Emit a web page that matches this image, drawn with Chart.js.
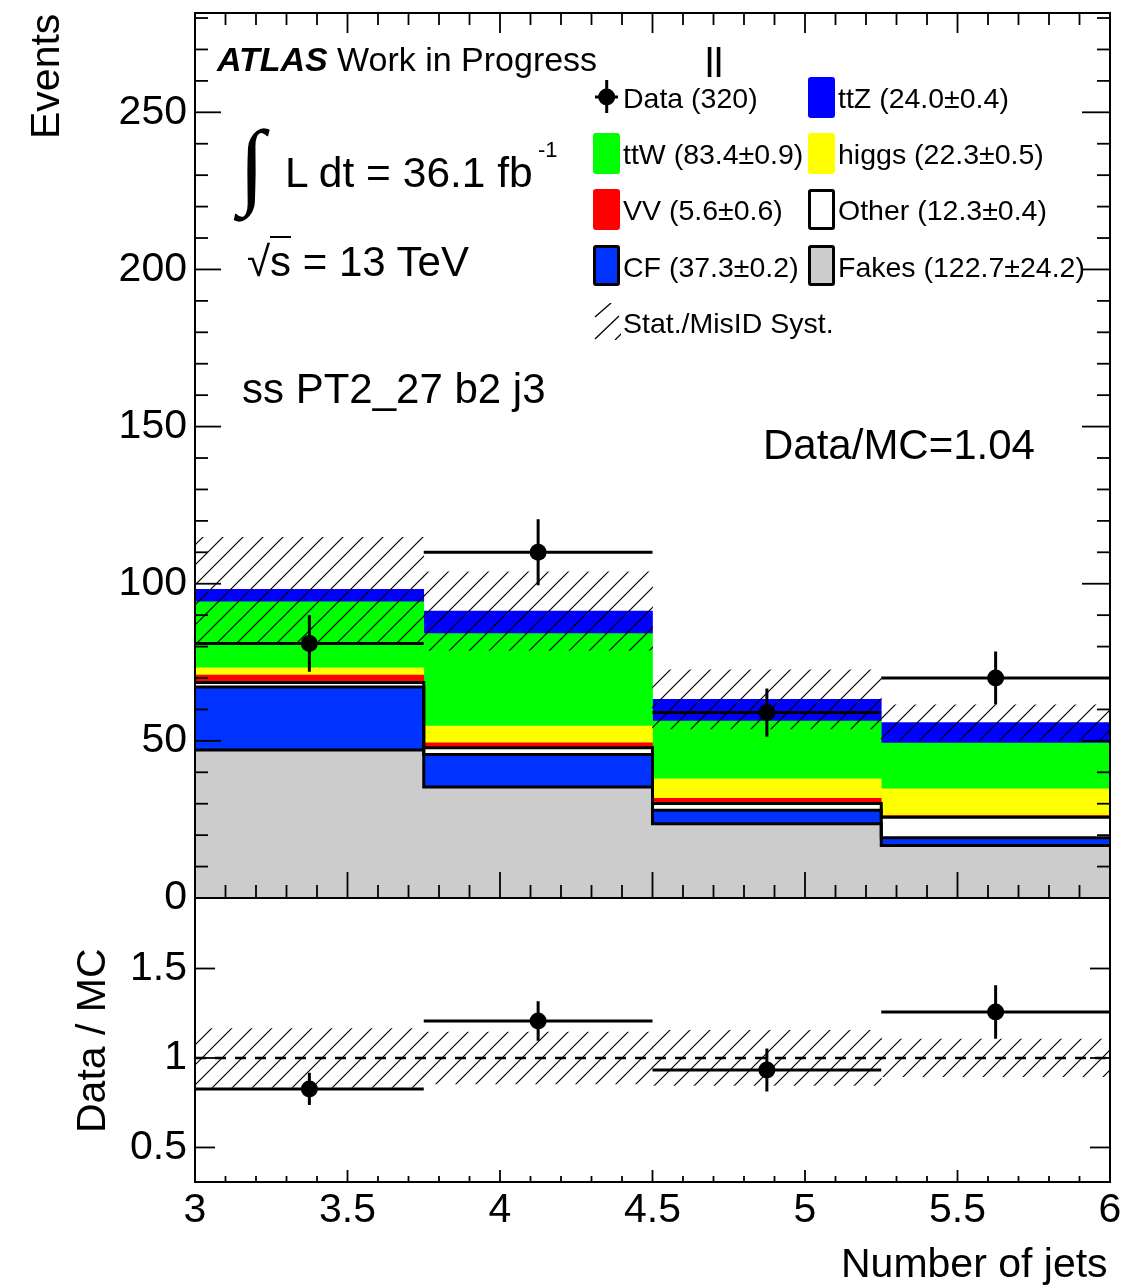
<!DOCTYPE html>
<html>
<head>
<meta charset="utf-8">
<script src="https://cdn.jsdelivr.net/npm/chart.js@4.4.0/dist/chart.umd.min.js"></script>
<style>
  html, body { margin: 0; padding: 0; background: #fff; }
  #wrap { position: relative; width: 1148px; height: 1288px; overflow: hidden; }
  #plot { position: absolute; left: 0; top: 0; }
  .txt { position: absolute; white-space: nowrap; line-height: 1; font-family: "Liberation Sans", Arial, Helvetica, sans-serif; color: #000; }
  .probe { display: inline-block; width: 0; height: 0; vertical-align: baseline; }
  .sw { position: absolute; box-sizing: border-box; width: 27px; height: 41px; border-radius: 3px; }
</style>
</head>
<body>
<div id="wrap">
  <canvas id="plot" width="1148" height="1288"></canvas>
</div>
<script>
// number of jets binning and axis ticks
const binEdges = [3, 3.75, 4.5, 5.25, 6];
const xTickValues = [3, 3.5, 4, 4.5, 5, 5.5, 6];
const yTickValues = [0, 50, 100, 150, 200, 250];
const ratioTickValues = [0.5, 1, 1.5];

// MC stack, bottom to top
const fakes = [47.1, 35.3, 23.6, 16.7];
const cf = [20.0, 10.4, 4.3, 2.5];
const other = [1.5, 2.1, 2.2, 6.5];
const vv = [2.3, 1.6, 1.6, 0.5];
const higgs = [2.3, 5.3, 6.2, 8.5];
const ttw = [21.0, 29.4, 18.4, 14.6];
const ttz = [4.0, 7.2, 6.9, 6.5];
const mcUnc = [16.6, 12.5, 9.4, 5.7];

// data
const dataCounts = [81, 110, 59, 70];
const dataErr = [9.0, 10.5, 7.7, 8.4];

// ratio panel
const ratioVals = [0.827, 1.207, 0.933, 1.257];
const ratioErr = [0.09, 0.11, 0.12, 0.15];
const ratioUnc = [0.165, 0.145, 0.154, 0.105];

const legendLabels = ['Data (320)', 'ttZ (24.0±0.4)', 'ttW (83.4±0.9)', 'higgs (22.3±0.5)',
  'VV (5.6±0.6)', 'Other (12.3±0.4)', 'CF (37.3±0.2)', 'Fakes (122.7±24.2)', 'Stat./MisID Syst.'];

const FONT = '"Liberation Sans", Arial, Helvetica, sans-serif';
const colFakes = '#cccccc', colCF = '#0033ff', colOther = '#ffffff', colVV = '#ff0000';
const colHiggs = '#ffff00', colTtW = '#00ff00', colTtZ = '#0000ff';

const binLabels = binEdges.slice(0, -1).map((e, i) => `${e}-${binEdges[i + 1]}`);
const centers = binEdges.slice(0, -1).map((e, i) => (e + binEdges[i + 1]) / 2);
const mcTotal = centers.map((_, i) => fakes[i] + cf[i] + other[i] + vv[i] + higgs[i] + ttw[i] + ttz[i]);

const plotCtx = document.getElementById('plot').getContext('2d');

function hatch() {
  const tile = document.createElement('canvas');
  tile.width = 20; tile.height = 20;
  const g = tile.getContext('2d');
  g.strokeStyle = '#000';
  g.lineWidth = 1.2;
  g.beginPath();
  g.moveTo(0, 20); g.lineTo(20, 0);
  g.moveTo(-5, 5); g.lineTo(5, -5);
  g.moveTo(15, 25); g.lineTo(25, 15);
  g.stroke();
  return plotCtx.createPattern(tile, 'repeat');
}
const hatchFill = hatch();

const barBase = { type: 'bar', xAxisID: 'xb', grouped: false, categoryPercentage: 1, barPercentage: 1, borderWidth: 0 };
const stackBar = (label, values, color) => ({ ...barBase, label, data: values, backgroundColor: color, yAxisID: 'y', stack: 'mc', order: 3 });
// histogram step outline (stacked so it sits on top of the cumulative sum)
const outline = (label, values) => ({
  type: 'line', label, xAxisID: 'x', yAxisID: 'y', stack: 'outline', order: 2,
  data: binEdges.map((e, i) => ({ x: e, y: values[Math.min(i, values.length - 1)] })),
  stepped: 'before', borderColor: '#000', borderWidth: 3, pointRadius: 0, fill: false
});
const hLines = vals => centers.flatMap((c, i) => [{ x: binEdges[i], y: vals[i] }, { x: binEdges[i + 1], y: vals[i] }, { x: binEdges[i + 1], y: null }]);
const vLines = (vals, errs) => centers.flatMap((c, i) => [{ x: c, y: vals[i] - errs[i] }, { x: c, y: vals[i] + errs[i] }, { x: c, y: null }]);
const lineSet = (data, yAxisID, stack) => ({
  type: 'line', data, xAxisID: 'x', yAxisID, stack, order: 0,
  borderColor: '#000', borderWidth: 3, pointRadius: 0, fill: false, borderCapStyle: 'butt'
});
const points = (vals, yAxisID, stack) => ({
  type: 'line', data: centers.map((c, i) => ({ x: c, y: vals[i] })), xAxisID: 'x', yAxisID, stack, order: 0,
  showLine: false, pointRadius: 8.5, pointHoverRadius: 8.5, pointBackgroundColor: '#000', pointBorderColor: '#000', pointBorderWidth: 0
});

const datasets = [
  stackBar('Fakes', fakes, colFakes),
  stackBar('CF', cf, colCF),
  stackBar('Other', other, colOther),
  stackBar('VV', vv, colVV),
  stackBar('higgs', higgs, colHiggs),
  stackBar('ttW', ttw, colTtW),
  stackBar('ttZ', ttz, colTtZ),
  outline('Fakes line', fakes),
  outline('CF line', cf),
  outline('Other line', other),
  { ...barBase, label: 'unc', yAxisID: 'y', stack: 'band', order: 1, backgroundColor: hatchFill,
    data: mcTotal.map((t, i) => [t - mcUnc[i], t + mcUnc[i]]) },
  lineSet(hLines(dataCounts), 'y', 'dH'),
  lineSet(vLines(dataCounts, dataErr), 'y', 'dV'),
  points(dataCounts, 'y', 'dP'),
  { ...barBase, label: 'ratio unc', yAxisID: 'yR', order: 1, backgroundColor: hatchFill,
    data: ratioUnc.map(u => [1 - u, 1 + u]) },
  { type: 'line', label: 'one', xAxisID: 'x', yAxisID: 'yR', order: 0.5,
    data: [{ x: binEdges[0], y: 1 }, { x: binEdges[binEdges.length - 1], y: 1 }],
    borderColor: '#000', borderWidth: 2.5, borderDash: [11, 9], pointRadius: 0, fill: false },
  lineSet(hLines(ratioVals), 'yR', 'rH'),
  lineSet(vLines(ratioVals, ratioErr), 'yR', 'rV'),
  points(ratioVals, 'yR', 'rP')
];

// frames and inward ROOT-style ticks
const axisDecor = {
  id: 'axisDecor',
  afterDatasetsDraw(chart) {
    const { ctx, scales: { x, y, yR } } = chart;
    const L = x.left, R = x.right;
    const seg = (x1, y1, x2, y2) => { ctx.beginPath(); ctx.moveTo(x1, y1); ctx.lineTo(x2, y2); ctx.stroke(); };
    ctx.save();
    ctx.strokeStyle = '#000';
    ctx.lineWidth = 1.8;
    const nx = Math.round((x.max - x.min) / 0.1);
    for (let i = 0; i <= nx; i++) {
      const px = x.getPixelForValue(x.min + i * 0.1);
      const major = i % 5 === 0;
      seg(px, y.bottom, px, y.bottom - (major ? 26 : 13));
      seg(px, y.top, px, y.top + (major ? 20 : 12));
      seg(px, yR.bottom, px, yR.bottom - (major ? 12 : 6));
    }
    for (let i = 0; i * 10 <= y.max; i++) {
      const py = y.getPixelForValue(i * 10);
      const major = i % 5 === 0;
      seg(L, py, L + (major ? 26 : 13), py);
      seg(R, py, R - (major ? 28 : 13), py);
    }
    ratioTickValues.forEach(v => {
      const py = yR.getPixelForValue(v);
      seg(L, py, L + 20, py);
      seg(R, py, R - 20, py);
    });
    ctx.lineWidth = 2;
    ctx.strokeRect(L, y.top, R - L, y.bottom - y.top);
    ctx.strokeRect(L, yR.top, R - L, yR.bottom - yR.top);
    ctx.restore();
  }
};

const tickFont = { family: FONT, size: 41 };
const fixTicks = values => scale => { scale.ticks = values.map(v => ({ value: v })); };
const fitY = s => { s.width = 195; s.paddingTop = 0; s.paddingBottom = 0; };

new Chart(plotCtx, {
  type: 'bar',
  data: { labels: binLabels, datasets },
  options: {
    responsive: false,
    animation: false,
    devicePixelRatio: 1,
    events: [],
    layout: { padding: { top: 13, right: 38, left: 0, bottom: 0 } },
    plugins: { legend: { display: false }, tooltip: { enabled: false } },
    scales: {
      x: {
        type: 'linear', position: 'bottom', min: 3, max: 6, offset: false, bounds: 'data',
        grid: { display: false, drawTicks: false }, border: { display: false },
        afterBuildTicks: fixTicks(xTickValues),
        ticks: { callback: v => String(v), font: tickFont, color: '#000', padding: 4, autoSkip: false, maxRotation: 0, minRotation: 0 },
        afterFit: s => { s.height = 106; }
      },
      xb: { type: 'category', display: false, offset: true, grid: { offset: true } },
      yR: {
        type: 'linear', position: 'left', stack: 'panels', stackWeight: 284,
        min: 0.307, max: 1.894, bounds: 'data', beginAtZero: false,
        grid: { display: false, drawTicks: false }, border: { display: false },
        afterBuildTicks: fixTicks(ratioTickValues),
        ticks: { callback: v => String(v), font: tickFont, color: '#000', padding: 8 },
        afterFit: fitY
      },
      y: {
        type: 'linear', position: 'left', stack: 'panels', stackWeight: 885, stacked: true,
        min: 0, max: 281.6, bounds: 'data', beginAtZero: false,
        grid: { display: false, drawTicks: false }, border: { display: false },
        afterBuildTicks: fixTicks(yTickValues),
        ticks: { callback: v => String(v), font: tickFont, color: '#000', padding: 8 },
        afterFit: fitY
      }
    }
  },
  plugins: [axisDecor]
});

// ---- text overlay ----
const wrap = document.getElementById('wrap');
function put(html, x, base, size, opts = {}) {
  const el = document.createElement('div');
  el.className = 'txt';
  el.innerHTML = html;
  el.style.fontSize = size + 'px';
  if (opts.font) el.style.fontFamily = opts.font;
  if (opts.weight) el.style.fontWeight = opts.weight;
  if (opts.style) el.style.fontStyle = opts.style;
  const probe = document.createElement('span');
  probe.className = 'probe';
  el.appendChild(probe);
  wrap.appendChild(el);
  const b = probe.offsetTop;
  const w = el.offsetWidth;
  if (opts.rotate) {
    el.style.transformOrigin = '0 0';
    el.style.transform = 'rotate(-90deg)';
    el.style.left = (x - b) + 'px';
    el.style.top = (opts.centre ? base + w / 2 : base) + 'px';
  } else {
    el.style.left = (opts.align === 'right' ? x - w : x) + 'px';
    el.style.top = (base - b) + 'px';
  }
  return el;
}

// integral sign scaled to its box
function putGlyph(ch, left, top, height, font, extra) {
  const m = document.createElement('canvas').getContext('2d');
  m.font = `100px ${font}`;
  const mt = m.measureText(ch);
  const k = height / (mt.actualBoundingBoxAscent + mt.actualBoundingBoxDescent);
  put(ch, left + mt.actualBoundingBoxLeft * k, top + mt.actualBoundingBoxAscent * k, 100 * k, { font, ...extra });
}

put('ATLAS', 217, 71, 34, { weight: 'bold', style: 'italic' });
put('Work in Progress', 337, 71, 34);
putGlyph('∫', 233, 128, 94, '"Liberation Serif", "DejaVu Serif", serif', { weight: 'bold' });
put('L dt = 36.1 fb', 285, 187, 42.5);
put('-1', 538, 157, 22);
put('√<span style="border-top:2.5px solid #000">s</span> = 13 TeV', 247, 276, 42);
put('ss PT2_27 b2 j3', 242, 403, 42);
put('Data/MC=1.04', 763, 459, 42);
put('ll', 705, 77, 41);

put('Events', 59, 139, 41, { rotate: true });
put('Data / MC', 105, 1040, 41, { rotate: true, centre: true });
put('Number of jets', 1108, 1277, 41, { align: 'right' });

// legend
const legCols = [593, 808], legRow0 = 97, legStep = 56.3;
const legendItems = [
  { kind: 'data', col: 0, row: 0 },
  { kind: 'box', color: colTtZ, col: 1, row: 0 },
  { kind: 'box', color: colTtW, col: 0, row: 1 },
  { kind: 'box', color: colHiggs, col: 1, row: 1 },
  { kind: 'box', color: colVV, col: 0, row: 2 },
  { kind: 'box', color: colOther, col: 1, row: 2, line: true },
  { kind: 'box', color: colCF, col: 0, row: 3, line: true },
  { kind: 'box', color: colFakes, col: 1, row: 3, line: true },
  { kind: 'hatch', col: 0, row: 4 }
];
legendItems.forEach((it, i) => {
  const x = legCols[it.col];
  const cy = legRow0 + it.row * legStep;
  if (it.kind === 'box') {
    const sw = document.createElement('div');
    sw.className = 'sw';
    sw.style.left = x + 'px';
    sw.style.top = (cy - 20.5) + 'px';
    sw.style.background = it.color;
    if (it.line) sw.style.border = '3px solid #000';
    wrap.appendChild(sw);
  } else if (it.kind === 'data') {
    const s = document.createElement('div');
    s.style.cssText = `position:absolute;left:${x - 3}px;top:${cy - 19}px;width:34px;height:38px;`;
    s.innerHTML = '<svg width="34" height="38"><line x1="16.7" y1="2" x2="16.7" y2="35" stroke="#000" stroke-width="3"/>' +
      '<line x1="5" y1="19" x2="28" y2="19" stroke="#000" stroke-width="3"/><circle cx="16.7" cy="19" r="8.5" fill="#000"/></svg>';
    wrap.appendChild(s);
  } else {
    const s = document.createElement('div');
    s.style.cssText = `position:absolute;left:${x}px;top:${cy - 19}px;width:28px;height:37px;`;
    s.innerHTML = '<svg width="28" height="37"><g stroke="#000" stroke-width="1.3">' +
      '<line x1="2" y1="14" x2="18" y2="0"/><line x1="2" y1="36" x2="26" y2="13"/><line x1="22" y1="37" x2="28" y2="31"/></g></svg>';
    wrap.appendChild(s);
  }
  put(legendLabels[i], x + 30, cy + 10.7, 28.5);
});
</script>
</body>
</html>
